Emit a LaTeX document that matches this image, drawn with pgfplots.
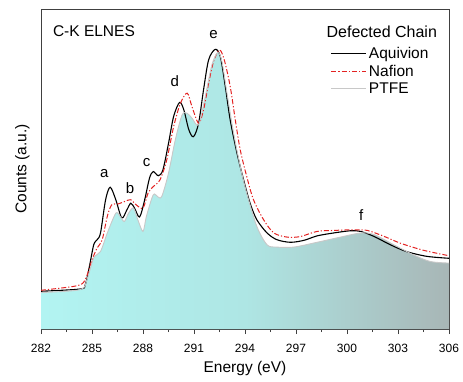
\documentclass[border=0pt]{standalone}
\usepackage{fontspec}
\setmainfont{Liberation Sans}
\usepackage{pgfplots}
\pgfplotsset{compat=1.18}
\usepackage{pgfplotstable}
\definecolor{axgray}{HTML}{404040}
\definecolor{fillL}{HTML}{B2F4F2}
\definecolor{fillM}{HTML}{AEE6E4}
\definecolor{fillR}{HTML}{A8B6B6}
\definecolor{nafred}{HTML}{E32222}
\definecolor{ptfeline}{HTML}{C8C8C8}
\newcommand{\lgf}{\fontsize{15.5}{18}\selectfont}

\pgfplotstableread{
x y
282 11.8
284.3 12.5
284.6 13.8
284.85 19.6
285.1 26.3
285.3 27.9
285.5 30.0
285.8 40.4
286.07 44.3
286.4 40.4
286.75 34.7
287.05 37.2
287.28 39.3
287.5 37.8
287.8 35.0
288.1 40.4
288.38 47.1
288.6 49.2
288.9 47.9
289.17 49.7
289.5 58.0
289.8 66.4
290.15 70.8
290.4 68.5
290.7 62.2
290.97 60.1
291.27 64.3
291.56 74.7
291.86 84.1
292.25 87.4
292.55 85.1
292.84 75.8
293.13 65.3
293.53 54.9
293.92 46.6
294.3 39.3
294.7 34.1
295.3 30.0
295.88 27.9
296.67 27.1
297.46 27.7
298.24 29.1
299.2 30.0
300.2 30.7
300.8 30.5
301.6 28.9
302.56 26.3
303.5 24.2
304.7 22.7
306 22.1
}\aquivion

\pgfplotstableread{
x y
282 12.1
284.1 13.5
284.6 15.4
285.0 21.6
285.3 25.3
285.6 27.9
285.9 35.2
286.16 38.8
286.55 39.1
286.95 39.9
287.28 40.4
287.6 38.8
288.0 37.8
288.3 42.5
288.6 44.5
289.0 46.6
289.4 52.9
289.8 63.2
290.2 70.5
290.6 73.7
290.88 69.5
291.27 64.3
291.56 68.5
291.86 76.8
292.15 83.6
292.5 87.2
292.78 84.1
293.13 75.8
293.43 65.3
293.72 56.0
294.1 47.7
294.5 40.4
295.1 34.1
295.7 30.0
296.5 28.7
297.26 28.9
298.24 30.5
299.2 30.8
300.4 31.0
301.2 30.8
302.2 28.9
303.15 26.8
304.5 24.6
306 22.9
}\nafion

\pgfplotstableread{
x y
282 11.4
284.3 12.3
284.7 15.4
285.1 22.2
285.5 24.2
285.9 30.0
286.4 36.2
286.65 35.2
286.9 33.6
287.15 36.2
287.44 37.8
287.7 34.1
288.0 30.5
288.2 35.2
288.6 41.9
288.85 41.4
289.1 41.4
289.5 48.7
289.9 59.1
290.3 66.9
290.6 67.4
290.88 65.9
291.27 63.8
291.66 72.6
292.05 82.5
292.4 86.4
292.64 83.6
292.94 73.7
293.33 61.2
293.72 50.8
294.1 42.5
294.7 32.0
295.3 26.3
295.88 25.6
296.87 25.6
298.24 27.1
299.6 28.7
300.8 30.0
301.6 29.5
302.76 26.3
303.9 23.2
304.9 21.1
306 20.6
}\ptfe

\begin{document}
\begin{tikzpicture}
\useasboundingbox (-41pt,-52pt) rectangle (422pt,329pt);
\begin{axis}[
  scale only axis, width=408pt, height=320pt,
  at={(0,0)}, anchor=south west,
  xmin=282, xmax=306, ymin=0, ymax=100,
  xtick={282,285,...,306}, minor x tick num=1,
  ytick=\empty,
  xtick pos=bottom, tick align=outside,
  major tick length=5pt, minor tick length=3pt,
  axis line style={axgray, line width=0.9pt},
  every tick/.style={axgray, line width=0.8pt},
  /pgf/number format/assume math mode=true,
  /pgf/number format/1000 sep={},
  ticklabel style={font=\fontsize{12}{14}\selectfont, text=black},
  xticklabel style={yshift=-7pt},
  xlabel={Energy (eV)}, ylabel={Counts (a.u.)},
  label style={font=\fontsize{15.5}{18}\selectfont},
  xlabel style={yshift=-1pt},
  ylabel style={yshift=3pt},
  legend style={draw=none, fill=none, at={(rel axis cs:0.955,0.884)}, anchor=north east,
     row sep=3pt, inner sep=0pt, nodes={inner xsep=2pt, inner ysep=1pt}},
  legend cell align=left,
  legend image code/.code={\draw[#1] (0pt,0pt) -- (35pt,0pt);},
]
\addplot[draw=none, left color=fillL, right color=fillR, middle color=fillM, smooth, tension=0.5, forget plot]
  table {\ptfe} \closedcycle;
\addplot[black, line width=1.1pt, smooth, tension=0.5] table {\aquivion};
\addlegendentry{\lgf Aquivion}
\addplot[nafred, line width=1pt, dash pattern=on 5pt off 2pt on 1.2pt off 2pt, smooth, tension=0.5] table {\nafion};
\addlegendentry{\lgf Nafion}
\addplot[ptfeline, line width=0.9pt, smooth, tension=0.5] table {\ptfe};
\addlegendentry{\lgf PTFE}
\node[font=\fontsize{16}{19}\selectfont, anchor=east, inner sep=0pt] at (rel axis cs:0.971,0.93) {Defected Chain};
\node[font=\fontsize{15.5}{18}\selectfont, anchor=west, inner sep=0pt] at (rel axis cs:0.029,0.93) {C-K ELNES};
\node[font=\fontsize{15}{18}\selectfont] at (axis cs:285.72,48.5) {a};
\node[font=\fontsize{15}{18}\selectfont] at (axis cs:287.24,44.0) {b};
\node[font=\fontsize{15}{18}\selectfont] at (axis cs:288.22,52.0) {c};
\node[font=\fontsize{15}{18}\selectfont] at (axis cs:289.87,77.5) {d};
\node[font=\fontsize{15}{18}\selectfont] at (axis cs:292.15,92.0) {e};
\node[font=\fontsize{15}{18}\selectfont] at (axis cs:300.83,35.5) {f};
\end{axis}
\end{tikzpicture}
\end{document}
